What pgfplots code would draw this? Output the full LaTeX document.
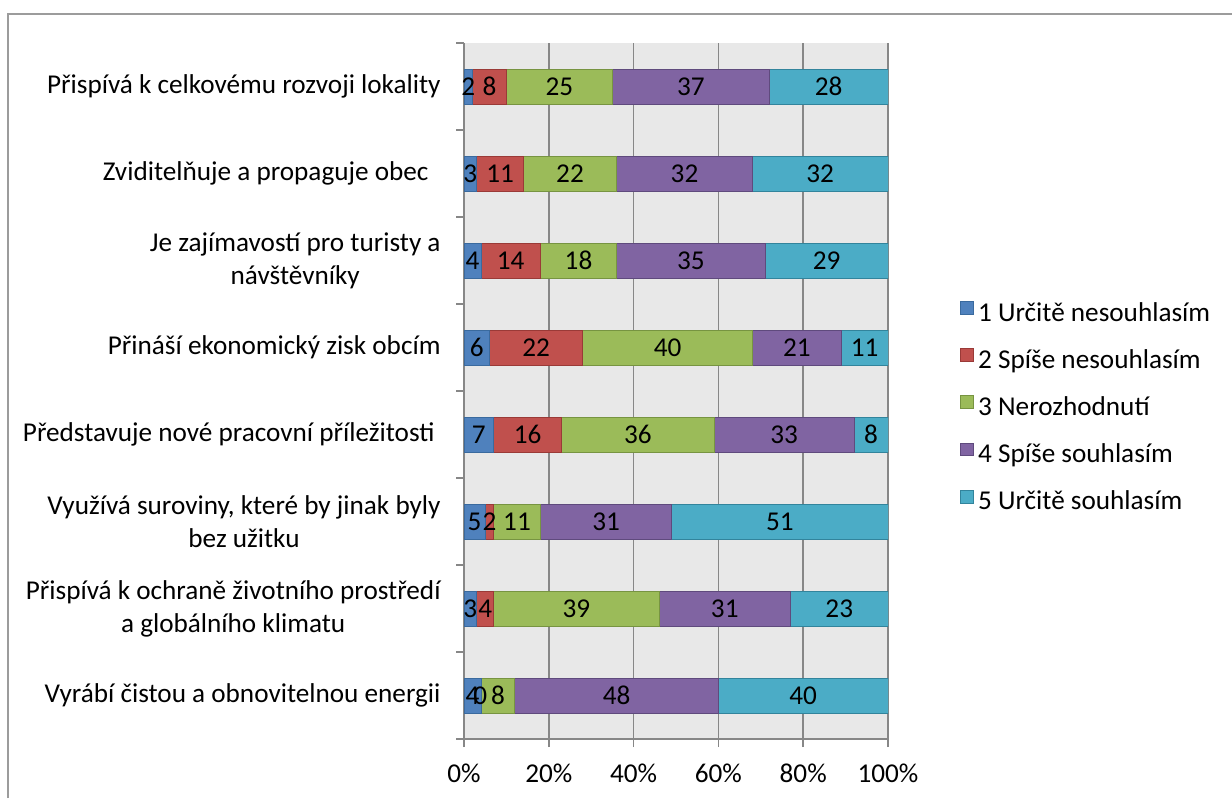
\documentclass[border=0pt]{standalone}
\usepackage{fontspec}
\setmainfont{Carlito}
\usepackage{pgfplots}
\usepackage{pgfplotstable}
\pgfplotsset{compat=1.18}

\definecolor{c1}{HTML}{4F81BD}\definecolor{c1d}{HTML}{3A6A9E}
\definecolor{c2}{HTML}{C0504D}\definecolor{c2d}{HTML}{9A3A37}
\definecolor{c3}{HTML}{9BBB59}\definecolor{c3d}{HTML}{779441}
\definecolor{c4}{HTML}{8064A2}\definecolor{c4d}{HTML}{5F4A7D}
\definecolor{c5}{HTML}{4BACC6}\definecolor{c5d}{HTML}{32849C}
\definecolor{gridgray}{HTML}{878787}
\definecolor{plotbg}{HTML}{E8E8E8}
\definecolor{framegray}{HTML}{9C9C9C}

% shares of answers (%), one row per statement, top to bottom
\pgfplotstableread{
cat a  b  c  d  e
0   2  8  25 37 28
1   3  11 22 32 32
2   4  14 18 35 29
3   6  22 40 21 11
4   7  16 36 33 8
5   5  2  11 31 51
6   3  4  39 31 23
7   4  0  8  48 40
}\answers

\pgfplotsset{
  frame/.style={
    at={(232bp,29.5bp)}, anchor=south west,
    scale only axis, width=212bp, height=348bp,
    xmin=0, xmax=100, ymin=-0.5, ymax=7.5, y dir=reverse,
  },
  common/.style={frame, xbar stacked, bar width=17.5bp},
  valuelabels/.style={
    nodes near coords={\pgfmathprintnumber[assume math mode=true]{\pgfplotspointmeta}},
    every node near coord/.append style={anchor=center, text=black},
  },
}

\begin{document}
\fontsize{13.6bp}{16.5bp}\selectfont
\begin{tikzpicture}[x=1bp,y=1bp]
\path[use as bounding box] (0,0) rectangle (616,399);
% chart frame
\draw[framegray, line width=1bp] (4,0) -- (4,392) -- (616,392);
% bars, axes and legend
\begin{axis}[
  common,
  axis x line*=bottom, axis y line*=left,
  axis line style={gridgray, line width=0.75bp},
  axis background/.style={fill=plotbg},
  xmajorgrids, grid style={gridgray, line width=0.75bp},
  tick align=outside, major tick length=4bp, minor tick length=4bp,
  xtick={0,20,40,60,80,100},
  xticklabels={0\%,20\%,40\%,60\%,80\%,100\%},
  x tick style={gridgray, line width=0.75bp},
  xticklabel style={yshift=-3.5bp},
  ytick={0,1,2,3,4,5,6,7},
  yticklabels={
    Přispívá k celkovému rozvoji lokality,
    Zviditelňuje a propaguje obec\hspace{6bp},
    Je zajímavostí pro turisty a\\návštěvníky,
    Přináší ekonomický zisk obcím,
    Představuje nové pracovní příležitosti\hspace{3bp},
    {Využívá suroviny, které by jinak byly\\bez užitku},
    Přispívá k ochraně životního prostředí\\a globálního klimatu,
    Vyrábí čistou a obnovitelnou energii},
  yticklabel style={align=center, xshift=-3bp},
  major y tick style={draw=none},
  minor ytick={-0.5,0.5,1.5,2.5,3.5,4.5,5.5,6.5,7.5},
  minor y tick style={draw=gridgray, line width=0.75bp},
  legend image code/.code={\draw[#1, line width=0.5bp] (0bp,0.2bp) rectangle (6.4bp,6.6bp);},
  legend cell align=left,
  legend style={at={(1.1698,0.4749)}, anchor=west, draw=none, fill=none,
    inner sep=0pt, column sep=2bp, row sep=10.5bp,
    nodes={inner sep=0pt, text height=9.5bp, text depth=3bp}},
]
\addplot[fill=c1, draw=c1d] table[x=a, y=cat] {\answers};
\addplot[fill=c2, draw=c2d] table[x=b, y=cat] {\answers};
\addplot[fill=c3, draw=c3d] table[x=c, y=cat] {\answers};
\addplot[fill=c4, draw=c4d] table[x=d, y=cat] {\answers};
\addplot[fill=c5, draw=c5d] table[x=e, y=cat] {\answers};
\legend{1 Určitě nesouhlasím, 2 Spíše nesouhlasím, 3 Nerozhodnutí, 4 Spíše souhlasím, 5 Určitě souhlasím}
\end{axis}
% value labels, set above all bars
\begin{axis}[common, hide axis, valuelabels]
\addplot[draw=none, fill=none] table[x=a, y=cat] {\answers};
\addplot[draw=none, fill=none] table[x=b, y=cat] {\answers};
\addplot[draw=none, fill=none] table[x=c, y=cat] {\answers};
\addplot[draw=none, fill=none] table[x=d, y=cat] {\answers};
\addplot[draw=none, fill=none] table[x=e, y=cat] {\answers};
\end{axis}
% empty second segments still get their "0", at the end of the first one
\begin{axis}[frame, hide axis, valuelabels]
\addplot[only marks, mark=*, mark size=0pt, mark options={draw=none, fill=none},
  point meta=explicit, restrict expr to domain={\thisrow{b}}{0:0},
  every node near coord/.append style={xshift=-0.3bp}]
  table[x=a, y=cat, meta=b] {\answers};
\end{axis}
\end{tikzpicture}
\end{document}
